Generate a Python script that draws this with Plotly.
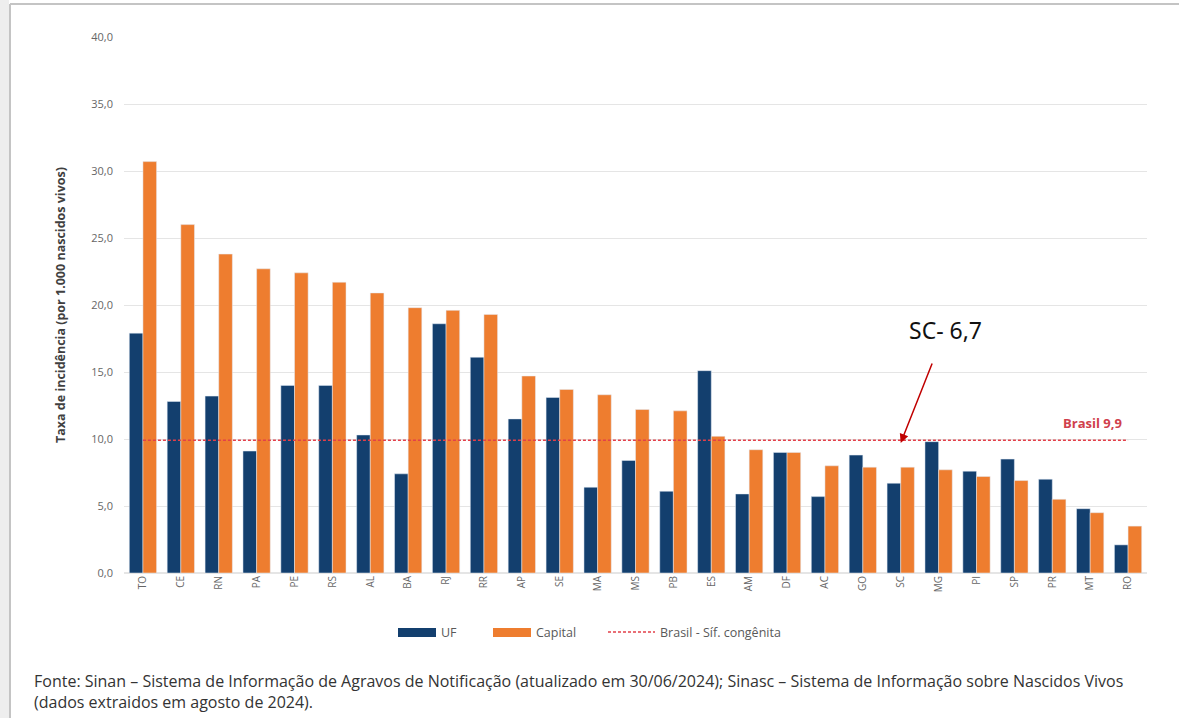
import plotly.graph_objects as go

# Taxa de incidência de sífilis congênita por UF e capital
ufs = ["TO", "CE", "RN", "PA", "PE", "RS", "AL", "BA", "RJ", "RR", "AP", "SE", "MA", "MS",
       "PB", "ES", "AM", "DF", "AC", "GO", "SC", "MG", "PI", "SP", "PR", "MT", "RO"]
taxa_uf = [17.9, 12.8, 13.2, 9.1, 14.0, 14.0, 10.3, 7.4, 18.6, 16.1, 11.5, 13.1, 6.4, 8.4,
           6.1, 15.1, 5.9, 9.0, 5.7, 8.8, 6.7, 9.8, 7.6, 8.5, 7.0, 4.8, 2.1]
taxa_capital = [30.7, 26.0, 23.8, 22.7, 22.4, 21.7, 20.9, 19.8, 19.6, 19.3, 14.7, 13.7, 13.3, 12.2,
                12.1, 10.2, 9.2, 9.0, 8.0, 7.9, 7.9, 7.7, 7.2, 6.9, 5.5, 4.5, 3.5]
taxa_brasil = 9.9
y_ticks = [0, 5, 10, 15, 20, 25, 30, 35, 40]
legend_labels = ["UF", "Capital", "Brasil - Síf. congênita"]

NAVY = "#133f6e"
ORANGE = "#ee7d2f"
RED = "#e2404a"
FONT = "Open Sans"

# plot-area geometry in pixels, used to place page decorations in paper units
L, R, T, B, W, H = 124, 32, 37, 145, 1179, 718
PW, PH = W - L - R, H - T - B


def px(x):
    return (x - L) / PW


def py(y):
    return (H - B - y) / PH


def fmt(v):
    return f"{v:.1f}".replace(".", ",")


fig = go.Figure()
fig.add_trace(go.Bar(x=ufs, y=taxa_uf, name=legend_labels[0], marker_color=NAVY))
fig.add_trace(go.Bar(x=ufs, y=taxa_capital, name=legend_labels[1], marker_color=ORANGE))
fig.add_trace(go.Scatter(
    x=ufs, y=[taxa_brasil] * len(ufs), name=legend_labels[2], mode="lines",
    line=dict(color=RED, width=1.5, dash="3px,2px"),
))

fig.update_layout(
    width=W, height=H,
    margin=dict(l=L, r=R, t=T, b=B),
    paper_bgcolor="white", plot_bgcolor="white",
    separators=",.",
    barmode="group", bargap=0.28, bargroupgap=0,
    font=dict(family=FONT, color="#595959"),
    showlegend=False,
)

fig.update_xaxes(
    tickangle=-90, tickfont=dict(size=10, color="#666666"),
    showgrid=False, showline=False, ticks="",
)
fig.update_yaxes(
    range=[0, 40], tickvals=y_ticks, tickformat=".1f",
    tickfont=dict(size=11, color="#666666"),
    gridcolor="#e5e5e5", gridwidth=1, zeroline=True, zerolinecolor="#e5e5e5",
    showline=False, ticks="", ticklabelstandoff=10,
    title=dict(text="<b>Taxa de incidência (por 1.000 nascidos vivos)</b>",
               font=dict(size=12.5, color="#404040"), standoff=22),
)

# page frame: light strip on the left with a thin border, and a border along the top
fig.add_shape(type="rect", xref="paper", yref="paper",
              x0=px(0), x1=px(9), y0=py(H), y1=py(0),
              fillcolor="#eeeeee", line=dict(width=0), layer="below")
fig.add_shape(type="line", xref="paper", yref="paper",
              x0=px(10), x1=px(10), y0=py(H), y1=py(4),
              line=dict(color="#c4c4c4", width=2))
fig.add_shape(type="line", xref="paper", yref="paper",
              x0=px(10), x1=px(W), y0=py(4), y1=py(4),
              line=dict(color="#c4c4c4", width=2))

# legend row below the axis: wide colour keys followed by their labels
LEG_Y = 632
keys = [
    dict(kind="rect", x0=398, x1=436, color=NAVY),
    dict(kind="rect", x0=493, x1=531, color=ORANGE),
    dict(kind="line", x0=608, x1=655, color=RED),
]
for key, label in zip(keys, legend_labels):
    if key["kind"] == "rect":
        fig.add_shape(type="rect", xref="paper", yref="paper",
                      x0=px(key["x0"]), x1=px(key["x1"]), y0=py(LEG_Y + 5), y1=py(LEG_Y - 4),
                      fillcolor=key["color"], line=dict(width=0))
    else:
        fig.add_shape(type="line", xref="paper", yref="paper",
                      x0=px(key["x0"]), x1=px(key["x1"]), y0=py(LEG_Y), y1=py(LEG_Y),
                      line=dict(color=key["color"], width=1.5, dash="3px,2px"))
    fig.add_annotation(xref="paper", yref="paper", x=px(key["x1"] + 3), y=py(LEG_Y),
                       xanchor="left", yanchor="middle", showarrow=False, text=label,
                       font=dict(size=12.5, color="#595959", family=FONT))

# national rate label at the end of the reference line
fig.add_annotation(
    x=ufs[-1], y=taxa_brasil, text=f"<b>Brasil {fmt(taxa_brasil)}</b>",
    showarrow=False, xanchor="right", yanchor="bottom", xshift=-4, yshift=6,
    font=dict(size=13, color="#d0404c", family=FONT),
)

# highlighted state: arrow pointing down to the reference line
sc_val = taxa_uf[ufs.index("SC")]
fig.add_annotation(
    x="SC", y=taxa_brasil - 0.2, text="", showarrow=True,
    ax=32, ay=-81, arrowhead=2, arrowsize=1.2, arrowwidth=1.5, arrowcolor="#c00000",
)
fig.add_annotation(
    x="SC", y=taxa_brasil, text=f"SC- {fmt(sc_val)}", showarrow=False,
    xanchor="center", yanchor="middle", xshift=45, yshift=110,
    font=dict(size=23, color="#111111", family="Noto Sans"),
)

# source note
fig.add_annotation(
    xref="paper", yref="paper", x=px(32), y=py(691), xanchor="left", yanchor="middle",
    align="left", showarrow=False,
    text=("Fonte: Sinan – Sistema de Informação de Agravos de Notificação (atualizado em 30/06/2024); "
          "Sinasc – Sistema de Informação sobre Nascidos Vivos<br>(dados extraidos em agosto de 2024)."),
    font=dict(size=16, color="#333333", family=FONT),
)

fig.write_html("out.html")
